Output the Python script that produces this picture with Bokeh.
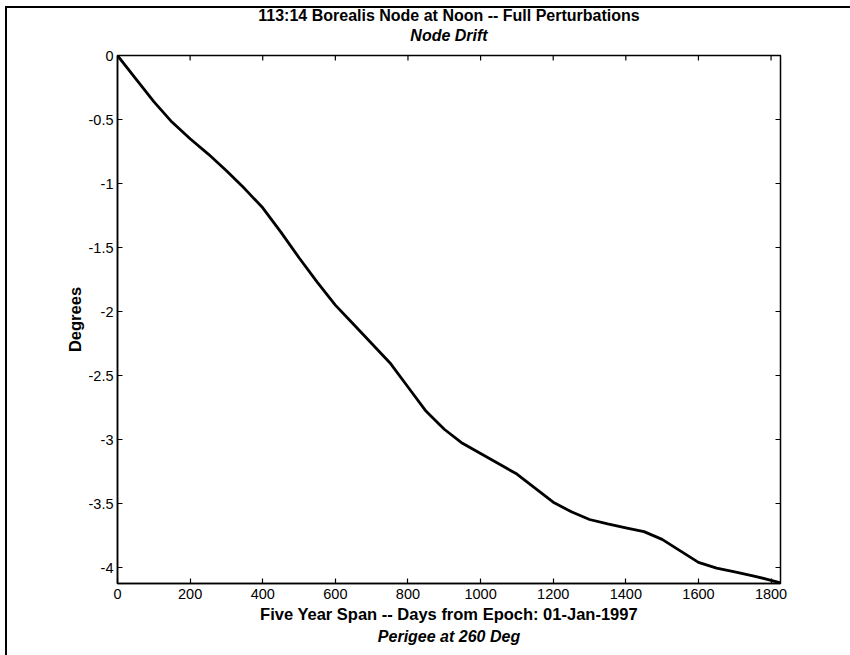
import math

from bokeh.embed import file_html
from bokeh.models import FixedTicker, LinearAxis, Range1d, Title
from bokeh.plotting import figure
from bokeh.resources import INLINE

# Node drift over the five-year span (days from epoch, degrees)
days = [0, 50, 100, 150, 200, 250, 300, 350, 400, 450, 500, 550, 600, 650,
        700, 750, 800, 850, 900, 950, 1000, 1050, 1100, 1150, 1200, 1250,
        1300, 1350, 1400, 1450, 1500, 1550, 1600, 1650, 1700, 1750, 1800, 1826]
drift = [0.00, -0.18, -0.36, -0.52, -0.65, -0.77, -0.90, -1.04, -1.19, -1.38,
         -1.58, -1.77, -1.95, -2.10, -2.25, -2.40, -2.59, -2.78, -2.92, -3.03,
         -3.11, -3.19, -3.27, -3.38, -3.49, -3.565, -3.625, -3.66, -3.69, -3.72,
         -3.78, -3.87, -3.96, -4.005, -4.035, -4.065, -4.10, -4.12]

x_ticks = [0, 200, 400, 600, 800, 1000, 1200, 1400, 1600, 1800]
y_ticks = [0, -0.5, -1, -1.5, -2, -2.5, -3, -3.5, -4]
y_tick_labels = ["0", "-0.5", "-1", "-1.5", "-2", "-2.5", "-3", "-3.5", "-4"]

title_text = "113:14 Borealis Node at Noon -- Full Perturbations"
subtitle_text = "Node Drift"
x_label = "Five Year Span -- Days from Epoch: 01-Jan-1997"
x_sublabel = "Perigee at 260 Deg"
y_label = "Degrees"

FONT = "Liberation Sans"
X0, X1 = 0, 1826
Y0, Y1 = -4.125, 0

p = figure(width=850, height=655, output_backend="svg", toolbar_location=None,
           title=None,
           x_range=Range1d(X0, X1), y_range=Range1d(Y0, Y1),
           min_border_left=117, min_border_right=70,
           min_border_top=55, min_border_bottom=72)
p.background_fill_color = "white"
p.border_fill_alpha = 0
p.outline_line_color = "black"
p.outline_line_width = 1.5
p.grid.visible = False

# page frame line along the top and left edges (white layers trim the stubs)
p.styles = {
    "background-color": "white",
    "background-image": (
        "linear-gradient(to right, #fff 5px, transparent 5px), "
        "linear-gradient(to bottom, #fff 6px, transparent 6px), "
        "linear-gradient(to bottom, transparent 6px, #000 6px, #000 8px, transparent 8px), "
        "linear-gradient(to right, transparent 5px, #000 5px, #000 7px, transparent 7px)"
    ),
}

for ax in (p.xaxis[0], p.yaxis[0]):
    ax.axis_line_color = "black"
    ax.axis_line_width = 1.5
    ax.major_tick_in = 5
    ax.major_tick_out = 0
    ax.major_tick_line_width = 1.2
    ax.minor_tick_line_color = None
    ax.major_label_text_font = FONT
    ax.major_label_text_font_size = "14.5px"
    ax.major_label_text_color = "black"
    ax.axis_label_text_font = FONT
    ax.axis_label_text_font_size = "16.5px"
    ax.axis_label_text_font_style = "bold"
    ax.axis_label_text_color = "black"

p.xaxis.ticker = FixedTicker(ticks=x_ticks)
p.yaxis.ticker = FixedTicker(ticks=y_ticks)
p.yaxis.major_label_overrides = {t: s for t, s in zip(y_ticks, y_tick_labels)}
p.xaxis.major_label_standoff = 5
p.yaxis.major_label_standoff = 4
p.xaxis.axis_label = x_label
p.yaxis.axis_label = y_label
p.xaxis.axis_label_standoff = 3
p.yaxis.axis_label_standoff = 2

# top axis carries only the subtitle; its ticks are drawn as rays below
top_ax = LinearAxis(ticker=FixedTicker(ticks=[]), axis_line_color=None,
                    major_tick_line_color=None, minor_tick_line_color=None,
                    major_tick_in=0, major_tick_out=0, major_label_standoff=0,
                    axis_label=subtitle_text, axis_label_standoff=12,
                    axis_label_text_font=FONT, axis_label_text_font_size="16px",
                    axis_label_text_font_style="bold italic",
                    axis_label_text_color="black",
                    axis_label_text_line_height=1.0)
p.add_layout(top_ax, "above")

# inward ticks mirrored on the top and right sides of the box
p.ray(x=x_ticks, y=[Y1] * len(x_ticks), length=5, length_units="screen",
      angle=-math.pi / 2, line_color="black", line_width=1.2)
p.ray(x=[X1] * len(y_ticks), y=y_ticks, length=5, length_units="screen",
      angle=math.pi, line_color="black", line_width=1.2)

p.add_layout(Title(text=title_text, align="center", text_font=FONT,
                   text_font_size="16px", text_font_style="bold",
                   text_color="black", text_line_height=1.0, standoff=0), "above")
# second line under the x-axis label
p.add_layout(Title(text=x_sublabel, align="center",
                   text_font=FONT, text_font_size="16px",
                   text_font_style="bold italic", text_color="black",
                   text_line_height=1.3, standoff=0), "below")

p.line(days, drift, line_color="black", line_width=2.8, line_join="round")

open("out.html", "w").write(file_html(p, INLINE))
